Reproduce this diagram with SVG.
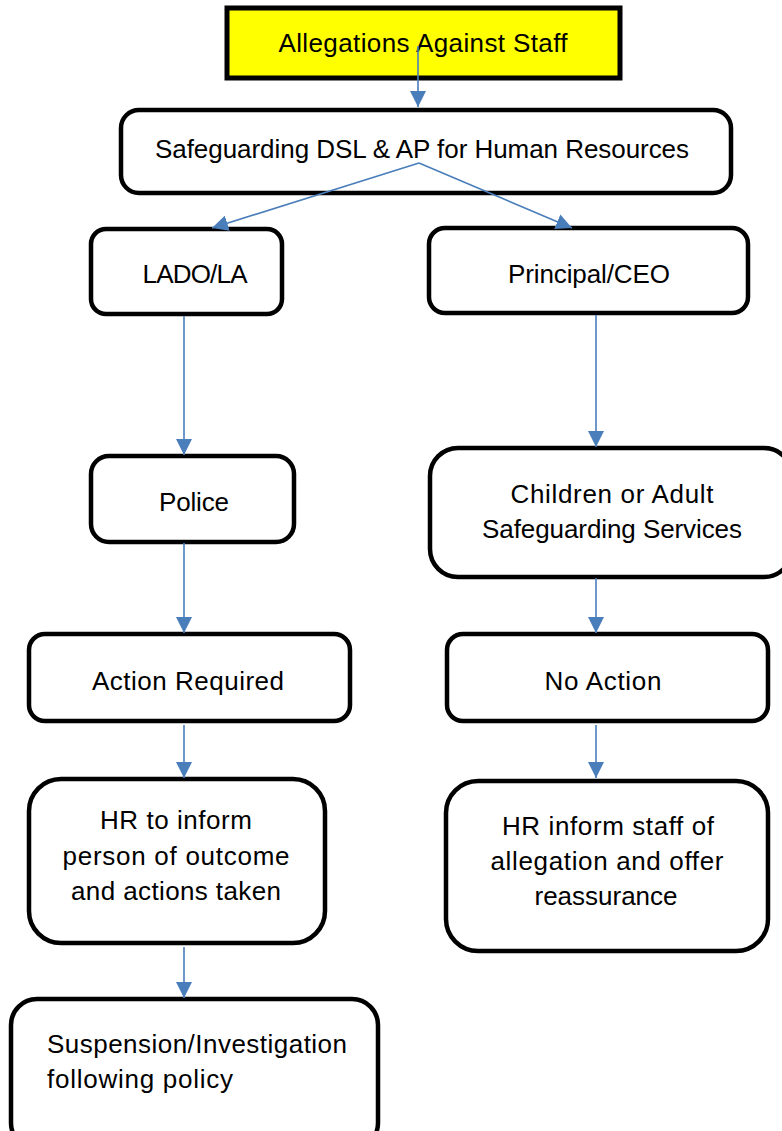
<svg xmlns="http://www.w3.org/2000/svg" width="782" height="1131" viewBox="0 0 782 1131">
<defs>
<style>
.box{fill:#ffffff;stroke:#000000;stroke-width:4.5}
.start{fill:#ffff00;stroke:#000000;stroke-width:5}
.t{font-family:"Liberation Sans",Arial,sans-serif;font-size:26px;fill:#000000;text-anchor:middle}
.tl{font-family:"Liberation Sans",Arial,sans-serif;font-size:26px;fill:#000000;text-anchor:start}
.c{fill:none;stroke:#4a7ebb;stroke-width:1.6}
</style>
<marker id="ah" markerUnits="userSpaceOnUse" markerWidth="16" markerHeight="16" viewBox="0 0 14 14" refX="14" refY="7" orient="auto">
<path d="M0,0 L14,7 L0,14 Z" fill="#4a7ebb"/>
</marker>
</defs>
<rect width="782" height="1131" fill="#ffffff"/>

<g id="n-allegations">
<rect class="start" x="227" y="8" width="393" height="70"/>
<text class="t" x="423" y="52" textLength="289">Allegations Against Staff</text>
</g>
<g id="n-safeguarding">
<rect class="box" x="121" y="110" width="610" height="83" rx="18"/>
<text class="t" x="422" y="158" textLength="534">Safeguarding DSL &amp; AP for Human Resources</text>
</g>
<g id="n-lado">
<rect class="box" x="91" y="229" width="191" height="85" rx="15"/>
<text class="t" x="195" y="283" textLength="105">LADO/LA</text>
</g>
<g id="n-principal">
<rect class="box" x="429" y="228" width="319" height="85" rx="16"/>
<text class="t" x="589" y="283" textLength="162">Principal/CEO</text>
</g>
<g id="n-police">
<rect class="box" x="91" y="456" width="203" height="86" rx="18"/>
<text class="t" x="194" y="511" textLength="70">Police</text>
</g>
<g id="n-children">
<rect class="box" x="430" y="448" width="362" height="129" rx="28"/>
<text class="t" x="612" y="503" textLength="203">Children or Adult</text>
<text class="t" x="612" y="538" textLength="260">Safeguarding Services</text>
</g>
<g id="n-action">
<rect class="box" x="29" y="634" width="321" height="87" rx="16"/>
<text class="t" x="188" y="690" textLength="192">Action Required</text>
</g>
<g id="n-noaction">
<rect class="box" x="447" y="634" width="321" height="87" rx="16"/>
<text class="t" x="603" y="690" textLength="117">No Action</text>
</g>
<g id="n-hr-inform">
<rect class="box" x="29" y="779" width="296" height="164" rx="32"/>
<text class="t" x="176" y="829" textLength="152">HR to inform</text>
<text class="t" x="176" y="865" textLength="227">person of outcome</text>
<text class="t" x="176" y="900" textLength="210">and actions taken</text>
</g>
<g id="n-hr-staff">
<rect class="box" x="446" y="781" width="322" height="170" rx="32"/>
<text class="t" x="608" y="835" textLength="212">HR inform staff of</text>
<text class="t" x="607" y="870" textLength="233">allegation and offer</text>
<text class="t" x="606" y="905" textLength="143">reassurance</text>
</g>
<g id="n-suspension">
<rect class="box" x="11" y="999" width="367" height="150" rx="26"/>
<text class="tl" x="47" y="1053" textLength="300">Suspension/Investigation</text>
<text class="tl" x="47" y="1088" textLength="186">following policy</text>
</g>

<g id="connectors">
<line class="c" x1="418" y1="46" x2="418" y2="107" marker-end="url(#ah)"/>
<line class="c" x1="419" y1="163" x2="212" y2="228" marker-end="url(#ah)"/>
<line class="c" x1="419" y1="163" x2="572" y2="228" marker-end="url(#ah)"/>
<line class="c" x1="184" y1="316" x2="184" y2="455" marker-end="url(#ah)"/>
<line class="c" x1="596" y1="315" x2="596" y2="447" marker-end="url(#ah)"/>
<line class="c" x1="184" y1="543" x2="184" y2="633" marker-end="url(#ah)"/>
<line class="c" x1="596" y1="578" x2="596" y2="633" marker-end="url(#ah)"/>
<line class="c" x1="184" y1="725" x2="184" y2="778" marker-end="url(#ah)"/>
<line class="c" x1="596" y1="725" x2="596" y2="778" marker-end="url(#ah)"/>
<line class="c" x1="184" y1="947" x2="184" y2="998" marker-end="url(#ah)"/>
</g>
</svg>
